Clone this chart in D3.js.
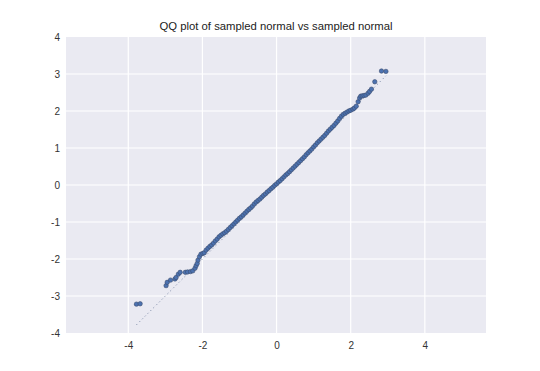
<!DOCTYPE html>
<html>
<head>
<meta charset="utf-8">
<script src="https://cdn.jsdelivr.net/npm/d3@7"></script>
<style>
  body { margin: 0; background: #fff; }
  text { font-family: "Liberation Sans", Arial, sans-serif; }
</style>
</head>
<body>
<svg width="540" height="371"></svg>
<script>
// theoretical quantiles (x) and sampled quantiles (y)
const theoQ = [-3.78, -3.68, -2.98, -2.95, -2.86, -2.74, -2.71, -2.65, -2.60, -2.46, -2.40, -2.32, -2.26, -2.20, -2.17, -2.14, -2.12, -2.08, -2.04, -1.99,
  -1.95, -1.90, -1.85, -1.80, -1.75, -1.70, -1.65, -1.60, -1.55, -1.50, -1.45, -1.40, -1.35, -1.30, -1.25, -1.20, -1.15, -1.10, -1.05, -1.00,
  -0.95, -0.90, -0.85, -0.80, -0.75, -0.70, -0.65, -0.60, -0.55, -0.50, -0.45, -0.40, -0.35, -0.30, -0.25, -0.20, -0.15, -0.10, -0.05, 0.00,
  0.05, 0.10, 0.15, 0.20, 0.25, 0.30, 0.35, 0.40, 0.45, 0.50, 0.55, 0.60, 0.65, 0.70, 0.75, 0.80, 0.85, 0.90, 0.95, 1.00,
  1.05, 1.10, 1.15, 1.20, 1.25, 1.30, 1.35, 1.40, 1.45, 1.50, 1.55, 1.60, 1.65, 1.70, 1.75, 1.80, 1.85, 1.90, 1.95, 2.00,
  2.06, 2.10, 2.15, 2.20, 2.24, 2.27, 2.31, 2.36, 2.41, 2.47, 2.51, 2.56, 2.65, 2.83, 2.95]
const sampleQ = [-3.22, -3.21, -2.72, -2.63, -2.57, -2.54, -2.50, -2.41, -2.36, -2.36, -2.35, -2.34, -2.32, -2.25, -2.18, -2.12, -2.03, -1.94, -1.87, -1.85,
  -1.83, -1.76, -1.71, -1.66, -1.62, -1.57, -1.51, -1.46, -1.40, -1.36, -1.32, -1.29, -1.25, -1.20, -1.15, -1.10, -1.05, -1.00, -0.95, -0.90,
  -0.86, -0.81, -0.76, -0.71, -0.66, -0.62, -0.57, -0.51, -0.46, -0.42, -0.38, -0.33, -0.28, -0.24, -0.19, -0.15, -0.10, -0.06, -0.01, 0.03,
  0.08, 0.12, 0.17, 0.22, 0.27, 0.31, 0.36, 0.41, 0.46, 0.51, 0.56, 0.61, 0.66, 0.71, 0.76, 0.82, 0.87, 0.92, 0.97, 1.03,
  1.08, 1.14, 1.19, 1.24, 1.29, 1.34, 1.40, 1.46, 1.51, 1.56, 1.61, 1.67, 1.73, 1.80, 1.86, 1.91, 1.94, 1.97, 2.00, 2.02,
  2.05, 2.08, 2.13, 2.25, 2.35, 2.40, 2.41, 2.42, 2.43, 2.48, 2.53, 2.59, 2.79, 3.08, 3.07]

const xTicks = [-4, -2, 0, 2, 4]
const yTicks = [-4, -3, -2, -1, 0, 1, 2, 3, 4]
const title = "QQ plot of sampled normal vs sampled normal"

const points = theoQ.map((t, i) => ({x: t, y: sampleQ[i]}))

const plotLeft = 66, plotRight = 486, plotTop = 37, plotBottom = 333

const x = d3.scaleLinear().domain([-5.68, 5.65]).range([plotLeft, plotRight])
const y = d3.scaleLinear().domain([-4, 4]).range([plotBottom, plotTop])

const svg = d3.select("svg")

// axes background
svg.append("rect")
    .attr("x", plotLeft)
    .attr("y", plotTop)
    .attr("width", plotRight - plotLeft)
    .attr("height", plotBottom - plotTop)
    .attr("fill", "#eaeaf2")

// grid
svg.append("g")
    .selectAll("line")
    .data(xTicks)
    .join("line")
    .attr("x1", d => x(d)).attr("x2", d => x(d))
    .attr("y1", plotTop).attr("y2", plotBottom)
    .attr("stroke", "#fff")
    .attr("stroke-width", 1.2)

svg.append("g")
    .selectAll("line")
    .data(yTicks.filter(d => d > -4 && d < 4))
    .join("line")
    .attr("x1", plotLeft).attr("x2", plotRight)
    .attr("y1", d => y(d)).attr("y2", d => y(d))
    .attr("stroke", "#fff")
    .attr("stroke-width", 1.2)

// tick labels via axes, no lines
const xAxis = svg.append("g")
    .attr("transform", `translate(0, ${plotBottom})`)
    .call(d3.axisBottom(x).tickValues(xTicks).tickSize(0).tickPadding(9).tickFormat(d => d))
xAxis.select(".domain").remove()

const yAxis = svg.append("g")
    .attr("transform", `translate(${plotLeft}, 0)`)
    .call(d3.axisLeft(y).tickValues(yTicks).tickSize(0).tickPadding(6).tickFormat(d => d))
yAxis.select(".domain").remove()

svg.selectAll(".tick text")
    .attr("fill", "#333")
    .style("font-size", "10px")
    .style("font-family", "'Liberation Sans', Arial, sans-serif")

// reference line y = x
const ext = d3.extent(theoQ)
svg.append("line")
    .attr("x1", x(ext[0])).attr("y1", y(ext[0]))
    .attr("x2", x(ext[1])).attr("y2", y(ext[1]))
    .attr("stroke", "#6f7f9f")
    .attr("stroke-width", 1)
    .attr("stroke-dasharray", "1,3")

// points
svg.append("g")
    .selectAll("circle")
    .data(points)
    .join("circle")
    .attr("cx", d => x(d.x))
    .attr("cy", d => y(d.y))
    .attr("r", 2.2)
    .attr("fill", "#4c72b0")
    .attr("stroke", "#3d4d6e")
    .attr("stroke-width", 0.6)

// title
svg.append("text")
    .attr("x", (plotLeft + plotRight) / 2)
    .attr("y", 30)
    .attr("text-anchor", "middle")
    .attr("fill", "#222")
    .style("font-size", "11.3px")
    .text(title)
</script>
</body>
</html>
